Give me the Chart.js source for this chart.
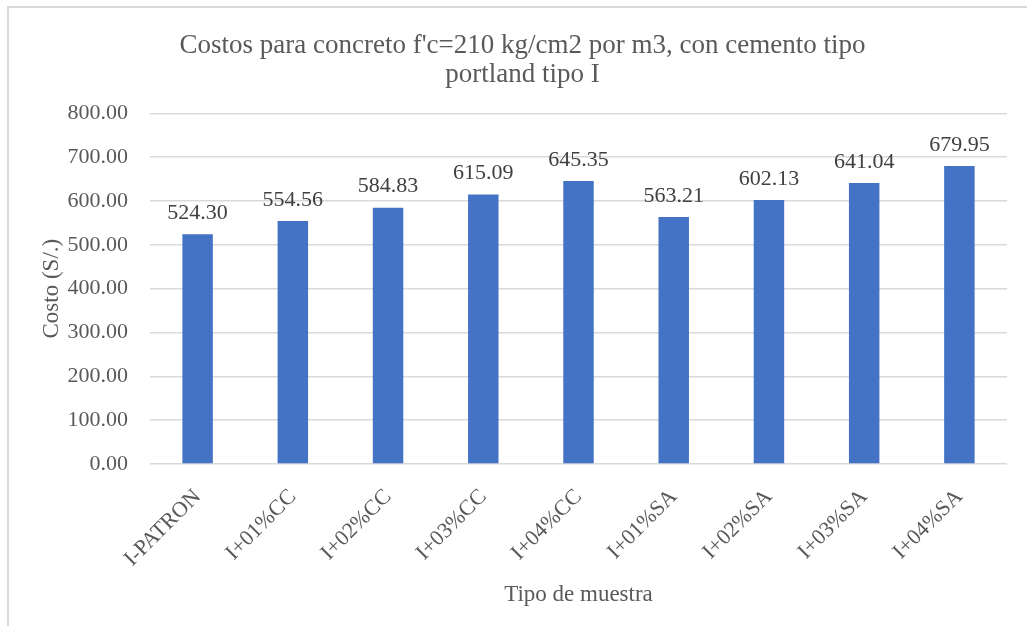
<!DOCTYPE html>
<html lang="es">
<head>
<meta charset="UTF-8">
<title>Costos concreto</title>
<style>
  html, body { margin: 0; padding: 0; background: #fff; }
  #wrap { position: relative; width: 1027px; height: 626px; }
  canvas { display: block; }
</style>
</head>
<body>
<div id="wrap"><canvas id="costChart" width="1027" height="626"></canvas></div>

<script src="https://cdn.jsdelivr.net/npm/chart.js"></script>
<script>
  // categorias y costos por m3
  const categories = ['I-PATRON', 'I+01%CC', 'I+02%CC', 'I+03%CC', 'I+04%CC',
                      'I+01%SA', 'I+02%SA', 'I+03%SA', 'I+04%SA'];
  const costs = [524.30, 554.56, 584.83, 615.09, 645.35, 563.21, 602.13, 641.04, 679.95];
  const yTicks = [0, 100, 200, 300, 400, 500, 600, 700, 800];

  const SERIF = "'Liberation Serif', 'Times New Roman', serif";

  // marco gris del grafico (solo borde superior e izquierdo)
  const framePlugin = {
    id: 'frame',
    beforeDraw(chart) {
      const ctx = chart.ctx;
      ctx.save();
      ctx.strokeStyle = '#d9d9d9';
      ctx.lineWidth = 2;
      ctx.beginPath();
      ctx.moveTo(8, 626);
      ctx.lineTo(8, 7);
      ctx.lineTo(1027, 7);
      ctx.stroke();
      ctx.restore();
    }
  };

  // etiquetas de valor sobre cada barra
  const valueLabels = {
    id: 'valueLabels',
    afterDatasetsDraw(chart) {
      const ctx = chart.ctx;
      const meta = chart.getDatasetMeta(0);
      ctx.save();
      ctx.font = '22px ' + SERIF;
      ctx.fillStyle = '#404040';
      ctx.textAlign = 'center';
      ctx.textBaseline = 'bottom';
      meta.data.forEach((bar, i) => {
        ctx.fillText(costs[i].toFixed(2), bar.x, bar.y - 10);
      });
      ctx.restore();
    }
  };

  new Chart(document.getElementById('costChart'), {
    type: 'bar',
    data: {
      labels: categories,
      datasets: [{
        data: costs,
        backgroundColor: '#4472c4',
        categoryPercentage: 1,
        barPercentage: 0.32
      }]
    },
    options: {
      responsive: false,
      animation: false,
      layout: { padding: { left: 38, right: 20, top: 0, bottom: 17 } },
      plugins: {
        legend: { display: false },
        tooltip: { enabled: false },
        title: {
          display: true,
          text: ["Costos para concreto f'c=210 kg/cm2 por m3, con cemento tipo", 'portland tipo I'],
          color: '#595959',
          font: { family: SERIF, size: 27, weight: 'normal', lineHeight: 1.08 },
          padding: { top: 31, bottom: 24 }
        }
      },
      scales: {
        y: {
          min: 0,
          max: 800,
          afterBuildTicks(scale) {
            scale.ticks = yTicks.map(v => ({ value: v }));
          },
          afterFit(scale) { scale.width = 112; },
          ticks: {
            color: '#595959',
            font: { family: SERIF, size: 22 },
            padding: 22,
            callback: v => Number(v).toFixed(2)
          },
          grid: { color: '#d9d9d9', lineWidth: 1.5, drawTicks: false },
          border: { display: false },
          title: {
            display: true,
            text: 'Costo (S/.)',
            color: '#595959',
            font: { family: SERIF, size: 23 },
            padding: 0
          }
        },
        x: {
          afterFit(scale) { scale.height = 145; },
          ticks: {
            color: '#595959',
            font: { family: SERIF, size: 22 },
            minRotation: 45,
            maxRotation: 45,
            padding: 12
          },
          grid: { display: false },
          border: { display: false },
          title: {
            display: true,
            text: 'Tipo de muestra',
            color: '#595959',
            font: { family: SERIF, size: 23 },
            padding: 0
          }
        }
      }
    },
    plugins: [framePlugin, valueLabels]
  });
</script>
</body>
</html>
